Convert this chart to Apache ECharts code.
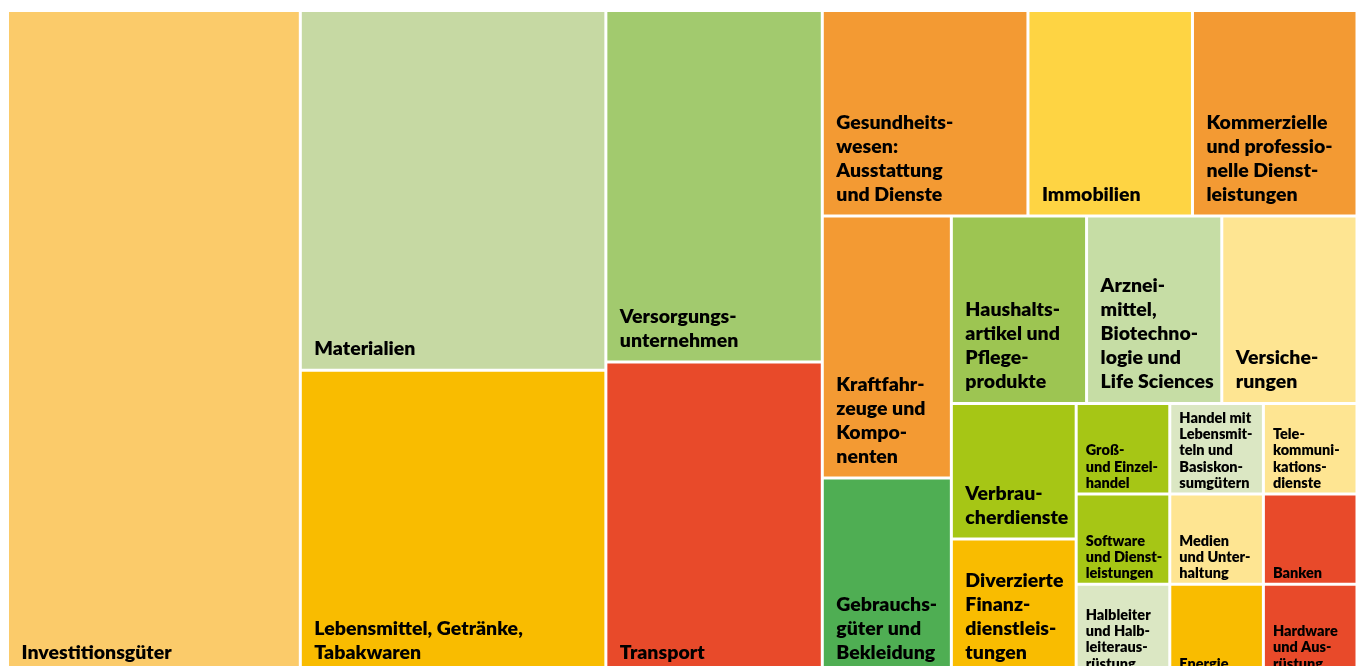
<!DOCTYPE html>
<html>
<head>
<meta charset="utf-8">
<title>Sektoren</title>
<script src="https://cdn.jsdelivr.net/npm/echarts@6/dist/echarts.min.js"></script>
<style>
  html,
  body {
    margin: 0;
    padding: 0;
    background: #fff;
  }
  #chart {
    width: 1356px;
    height: 666px;
  }
</style>
</head>
<body>
<div id="chart"></div>
<script>
// Sektoren, Zeilenumbrüche wie im Original
const sectors = [
  "Investitionsgüter",
  "Materialien",
  "Lebensmittel, Getränke,\nTabakwaren",
  "Versorgungs-\nunternehmen",
  "Transport",
  "Gesundheits-\nwesen:\nAusstattung\nund Dienste",
  "Immobilien",
  "Kommerzielle\nund professio-\nnelle Dienst-\nleistungen",
  "Kraftfahr-\nzeuge und\nKompo-\nnenten",
  "Gebrauchs-\ngüter und\nBekleidung",
  "Haushalts-\nartikel und\nPflege-\nprodukte",
  "Arznei-\nmittel,\nBiotechno-\nlogie und\nLife Sciences",
  "Versiche-\nrungen",
  "Verbrau-\ncherdienste",
  "Diverzierte\nFinanz-\ndienstleis-\ntungen",
  "Groß-\nund Einzel-\nhandel",
  "Software\nund Dienst-\nleistungen",
  "Halbleiter\nund Halb-\nleiteraus-\nrüstung",
  "Handel mit\nLebensmit-\nteln und\nBasiskon-\nsumgütern",
  "Tele-\nkommuni-\nkations-\ndienste",
  "Medien\nund Unter-\nhaltung",
  "Banken",
  "Energie",
  "Hardware\nund Aus-\nrüstung",
];
const counts = [23, 13, 11, 9, 8, 5, 4, 4, 4, 3, 3, 3, 3, 2, 2, 1, 1, 1, 1, 1, 1, 1, 1, 1];
// Gruppierung (Indizes in sectors), damit die Kacheln wie im Original liegen
const nesting = [
  0,
  [1, 2],
  [3, 4],
  [[5, 6, 7], [[8, 9], [[10, 11, 12], [[13, 14], [[15, 16, 17], [[18, 19], [[20, 22], [21, 23]]]]]]]],
];

const colors = [
  "#fbcb6a", "#c6d9a3", "#f9bc00", "#a2ca6e", "#e84a2a",
  "#f39a33", "#fed443", "#f39a33", "#f39a33", "#4fae53",
  "#9dc552", "#c6dda5", "#fee592", "#a6c615", "#f9bc00",
  "#a6c615", "#a6c615", "#dbe7c3", "#dbe7c3", "#fee592",
  "#fee592", "#e84a2a", "#f9bc00", "#e84a2a",
];

const bigLabel = {
  fontSize: 19.5,
  lineHeight: 24,
  distance: 7.5,
  offset: [0, -0.5],
  padding: [0, 0, 0, 5],
};
const smallLabel = {
  fontSize: 14.5,
  lineHeight: 16.25,
  distance: 0,
  offset: [0, -1],
  padding: [0, 0, 0, 8],
};

const buildNode = (entry) => {
  if (Array.isArray(entry)) {
    return { children: entry.map(buildNode) };
  }
  return {
    name: sectors[entry],
    value: counts[entry],
    itemStyle: { color: colors[entry], borderColor: "#fff", borderWidth: 1.5 },
    label: counts[entry] > 1 ? bigLabel : smallLabel,
  };
};

const chart = echarts.init(document.getElementById("chart"));
const option = {
  animation: false,
  series: [
    {
      type: "treemap",
      left: 7.5,
      top: 10.5,
      width: 1349.5,
      height: 664,
      roam: false,
      nodeClick: false,
      sort: false,
      squareRatio: 1e-6,
      visibleMin: 0,
      drillDownIcon: "",
      breadcrumb: { show: false },
      itemStyle: { borderWidth: 0, gapWidth: 0, borderColor: "#fff" },
      upperLabel: { show: false },
      label: {
        show: true,
        position: "insideBottomLeft",
        color: "#000",
        fontFamily: "Lato",
        fontWeight: 800,
      },
      data: nesting.map(buildNode),
    },
  ],
};
chart.setOption(option);
</script>
</body>
</html>
